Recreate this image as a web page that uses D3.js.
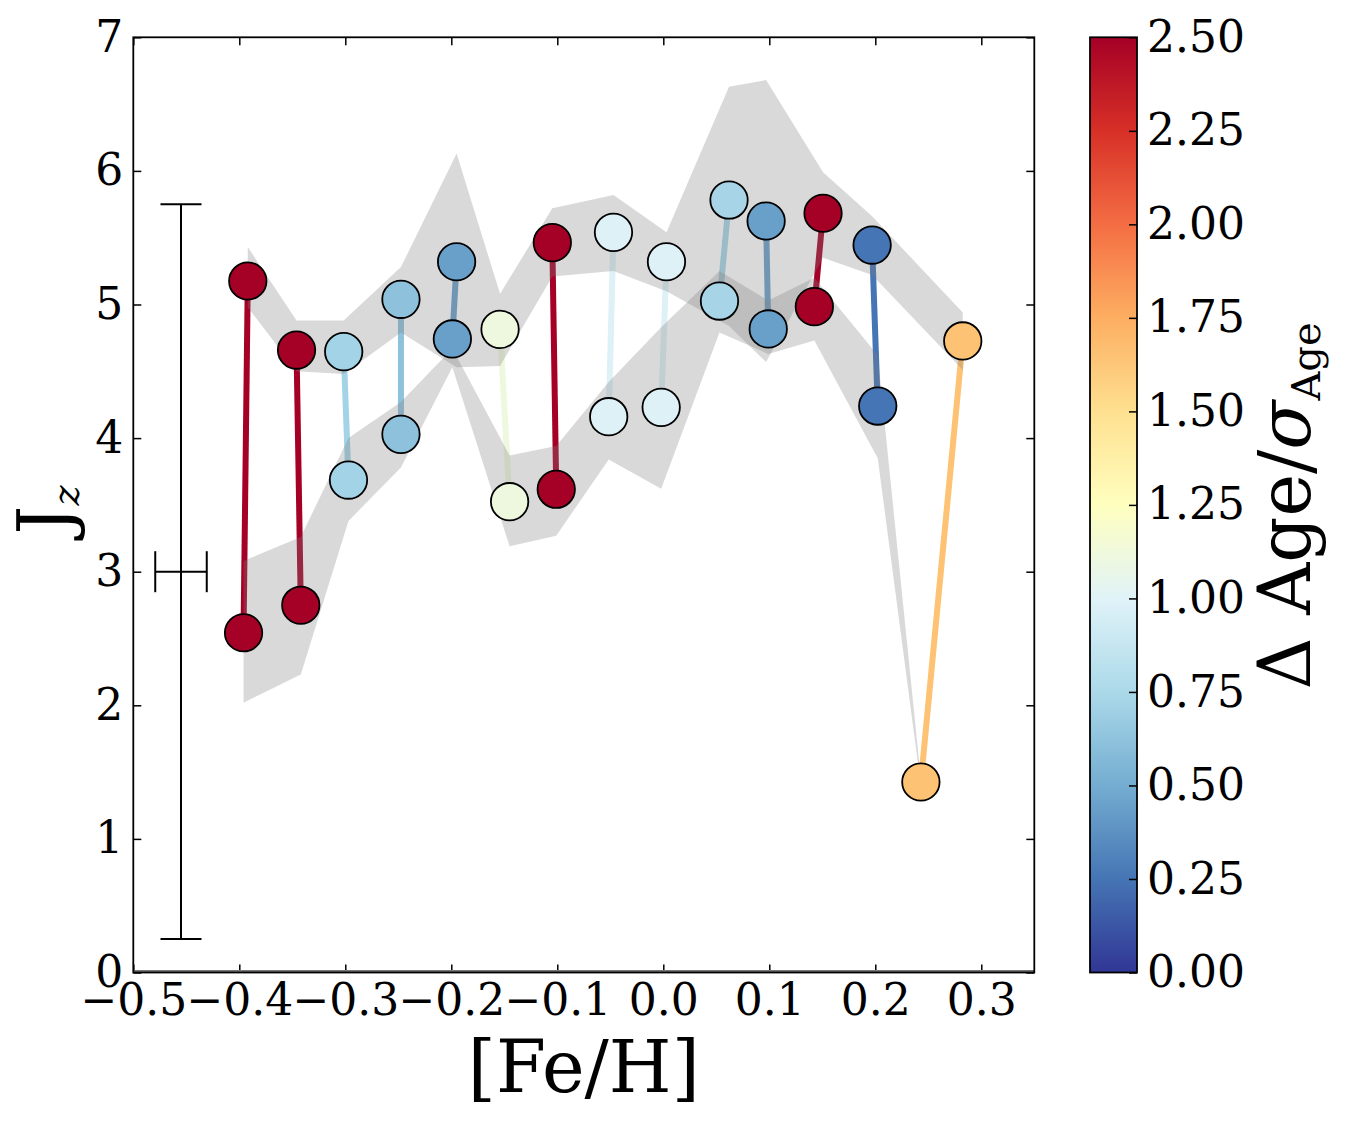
<!DOCTYPE html>
<html>
<head>
<meta charset="utf-8">
<script src="https://cdn.jsdelivr.net/npm/d3@7"></script>
<style>
  body { margin: 0; background: #fff; }
  text { font-family: "DejaVu Serif", serif; fill: #000; }
</style>
</head>
<body>
<div id="chart"></div>
<script>
// pairs: upper and lower member of each pair
const feTop = [-0.392, -0.346, -0.3015, -0.2475, -0.195, -0.154, -0.1047, -0.047, 0.003, 0.062, 0.097, 0.1507, 0.197, 0.2825];
const jzTop = [5.176, 4.659, 4.647, 5.039, 5.32, 4.814, 5.463, 5.54, 5.32, 5.782, 5.625, 5.683, 5.445, 4.727];
const feBot = [-0.396, -0.342, -0.297, -0.2475, -0.199, -0.145, -0.101, -0.0515, -0.002, 0.053, 0.099, 0.1425, 0.2023, 0.243];
const jzBot = [2.543, 2.749, 3.686, 4.028, 4.742, 3.524, 3.617, 4.16, 4.23, 5.026, 4.817, 4.984, 4.24, 1.426];
const ageRatio = [2.5, 2.5, 0.714, 0.618, 0.44, 1.11, 2.5, 0.985, 0.985, 0.73, 0.44, 2.5, 0.25, 1.65];

// shaded bands
const topLo = [4.98, 4.50, 4.48, 4.79, 4.53, 4.54, 5.21, 5.25, 5.10, 4.84, 4.57, 5.35, 5.22, 4.51];
const topHi = [5.43, 4.88, 4.88, 5.28, 6.13, 5.08, 5.72, 5.82, 5.54, 6.63, 6.68, 5.99, 5.66, 4.94];
const botLo = [2.02, 2.23, 3.38, 3.78, 4.53, 3.19, 3.27, 3.84, 3.62, 4.79, 4.63, 4.73, 3.85, 1.40];
const botHi = [3.08, 3.26, 4.00, 4.27, 4.67, 3.87, 3.94, 4.42, 4.83, 5.25, 5.03, 5.20, 4.62, 1.45];

// typical error bar
const errX = -0.455, errY = 3.0, errXerr = 0.0243, errYerr = 2.75;

const xTicks = [-0.5, -0.4, -0.3, -0.2, -0.1, 0.0, 0.1, 0.2, 0.3];
const yTicks = [0, 1, 2, 3, 4, 5, 6, 7];
const cbTicks = [0, 0.25, 0.5, 0.75, 1.0, 1.25, 1.5, 1.75, 2.0, 2.25, 2.5];
const rdylbu = ['#a50026', '#d73027', '#f46d43', '#fdae61', '#fee090', '#ffffbf',
                '#e0f3f8', '#abd9e9', '#74add1', '#4575b4', '#313695'];

const width = 1352, height = 1122;
const svg = d3.select('#chart').append('svg')
    .attr('width', width)
    .attr('height', height);
svg.append('rect').attr('width', width).attr('height', height).attr('fill', '#fff');

const x = d3.scaleLinear().domain([-0.5, 0.35]).range([133.3, 1034.3]);
const y = d3.scaleLinear().domain([0, 7]).range([972.5, 37.3]);

const cmap = rdylbu.slice().reverse();
const color = d3.scaleLinear()
    .domain(cmap.map((c, i) => 2.5 * i / 10))
    .range(cmap)
    .clamp(true);

const idx = d3.range(feTop.length);

// connecting lines (below the bands)
svg.append('g').selectAll('line')
    .data(idx)
    .enter().append('line')
    .attr('x1', i => x(feBot[i]))
    .attr('y1', i => y(jzBot[i]))
    .attr('x2', i => x(feTop[i]))
    .attr('y2', i => y(jzTop[i]))
    .attr('stroke', i => color(ageRatio[i]))
    .attr('stroke-width', 6);

const bandTop = d3.area()
    .x(i => x(feTop[i]))
    .y0(i => y(topLo[i]))
    .y1(i => y(topHi[i]));
const bandBot = d3.area()
    .x(i => x(feBot[i]))
    .y0(i => y(botLo[i]))
    .y1(i => y(botHi[i]));

svg.append('path').attr('d', bandTop(idx))
    .attr('fill', '#808080').attr('fill-opacity', 0.3);
svg.append('path').attr('d', bandBot(idx))
    .attr('fill', '#808080').attr('fill-opacity', 0.3);

// error bar
const eb = svg.append('g').attr('stroke', '#000').attr('stroke-width', 2);
eb.append('line')
    .attr('x1', x(errX)).attr('x2', x(errX))
    .attr('y1', y(errY - errYerr)).attr('y2', y(errY + errYerr));
eb.append('line')
    .attr('x1', x(errX - errXerr)).attr('x2', x(errX + errXerr))
    .attr('y1', y(errY)).attr('y2', y(errY));
[errY - errYerr, errY + errYerr].forEach(v => {
    eb.append('line')
        .attr('x1', x(errX) - 20.5).attr('x2', x(errX) + 20.5)
        .attr('y1', y(v)).attr('y2', y(v));
});
[errX - errXerr, errX + errXerr].forEach(v => {
    eb.append('line')
        .attr('x1', x(v)).attr('x2', x(v))
        .attr('y1', y(errY) - 20.5).attr('y2', y(errY) + 20.5);
});

// points
const pts = idx.map(i => ({fe: feTop[i], jz: jzTop[i], r: ageRatio[i]}))
    .concat(idx.map(i => ({fe: feBot[i], jz: jzBot[i], r: ageRatio[i]})));
svg.append('g').selectAll('circle')
    .data(pts)
    .enter().append('circle')
    .attr('cx', d => x(d.fe))
    .attr('cy', d => y(d.jz))
    .attr('r', 18.7)
    .attr('fill', d => color(d.r))
    .attr('stroke', '#000')
    .attr('stroke-width', 1.8);

// axes, ticks pointing inward
function styleAxis(g) {
    g.selectAll('.tick line').attr('stroke', '#000').attr('stroke-width', 1.5);
    g.selectAll('.tick text').attr('font-size', 44).attr('font-family', '"DejaVu Serif", serif');
    g.select('.domain').remove();
}
svg.append('g')
    .attr('transform', `translate(0,${y(0)})`)
    .call(d3.axisBottom(x).tickValues(xTicks).tickFormat(d3.format('.1f'))
        .tickSize(-8).tickPadding(11))
    .call(styleAxis);
svg.append('g')
    .attr('transform', `translate(0,${y(7)})`)
    .call(d3.axisTop(x).tickValues(xTicks).tickFormat('').tickSize(-8))
    .call(styleAxis);
svg.append('g')
    .attr('transform', `translate(${x(-0.5)},0)`)
    .call(d3.axisLeft(y).tickValues(yTicks).tickFormat(d3.format('d'))
        .tickSize(-8).tickPadding(10))
    .call(styleAxis);
svg.append('g')
    .attr('transform', `translate(${x(0.35)},0)`)
    .call(d3.axisRight(y).tickValues(yTicks).tickFormat('').tickSize(-8))
    .call(styleAxis);

svg.append('line')
    .attr('x1', x(-0.5)).attr('x2', x(0.35))
    .attr('y1', y(0) - 1).attr('y2', y(0) - 1)
    .attr('stroke', '#777').attr('stroke-width', 3);
svg.append('rect')
    .attr('x', x(-0.5)).attr('y', y(7))
    .attr('width', x(0.35) - x(-0.5)).attr('height', y(0) - y(7))
    .attr('fill', 'none').attr('stroke', '#000').attr('stroke-width', 1.8);

// axis labels
svg.append('text')
    .attr('x', (x(-0.5) + x(0.35)) / 2)
    .attr('y', 1092)
    .attr('text-anchor', 'middle')
    .attr('font-size', 72)
    .text('[Fe/H]');

const yl = svg.append('text')
    .attr('transform', 'translate(70,510) rotate(-90)')
    .attr('text-anchor', 'middle')
    .attr('font-size', 72);
yl.append('tspan').text('J');
yl.append('tspan').attr('font-size', 38).attr('font-style', 'italic').attr('dy', 9).text('z');

// colorbar
const cbX = 1090, cbW = 47;
const cb = d3.scaleLinear().domain([0, 2.5]).range([972.5, 37.3]);
const grad = svg.append('defs').append('linearGradient')
    .attr('id', 'cbgrad')
    .attr('x1', 0).attr('y1', 1).attr('x2', 0).attr('y2', 0);
grad.selectAll('stop')
    .data(cmap)
    .enter().append('stop')
    .attr('offset', (d, i) => i / 10)
    .attr('stop-color', d => d);
svg.append('rect')
    .attr('x', cbX).attr('y', cb(2.5))
    .attr('width', cbW).attr('height', cb(0) - cb(2.5))
    .attr('fill', 'url(#cbgrad)');
svg.append('g')
    .attr('transform', `translate(${cbX + cbW},0)`)
    .call(d3.axisRight(cb).tickValues(cbTicks).tickFormat(d3.format('.2f'))
        .tickSize(-8).tickPadding(10))
    .call(styleAxis);
svg.append('rect')
    .attr('x', cbX).attr('y', cb(2.5))
    .attr('width', cbW).attr('height', cb(0) - cb(2.5))
    .attr('fill', 'none').attr('stroke', '#000').attr('stroke-width', 1.8);

const cl = svg.append('text')
    .attr('transform', 'translate(1310,506) rotate(-90)')
    .attr('text-anchor', 'middle')
    .attr('font-size', 72);
cl.append('tspan').text('\u0394 Age/');
cl.append('tspan').attr('font-style', 'italic').text('\u03c3');
cl.append('tspan').attr('font-size', 40).attr('dy', 10).text('Age');
</script>
</body>
</html>
